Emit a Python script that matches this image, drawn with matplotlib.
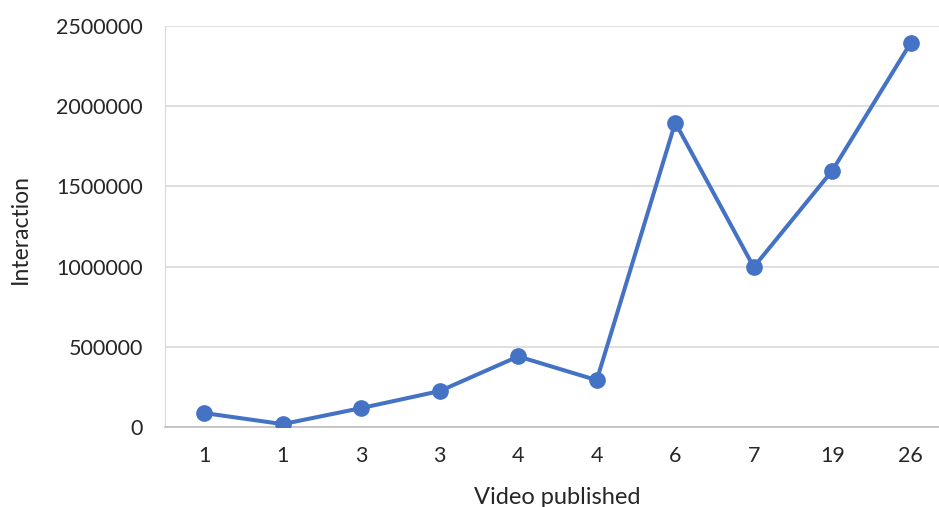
import matplotlib
matplotlib.use("Agg")
import matplotlib.pyplot as plt

categories = ["1", "1", "3", "3", "4", "4", "6", "7", "19", "26"]
values = [87000, 18000, 118000, 224000, 440000, 292000, 1898000, 997000, 1598000, 2395000]
yticks = [0, 500000, 1000000, 1500000, 2000000, 2500000]

plt.rcParams['font.family'] = ['Lato', 'DejaVu Sans']
W, H = 939, 507
fig = plt.figure(figsize=(W/100, H/100), dpi=100)
left, right, top, bottom = 165, 950, 26, 427
ax = fig.add_axes([left/W, 1-bottom/H, (right-left)/W, (bottom-top)/H])

x = list(range(len(categories)))
ax.plot(x, values, color='#4472C4', lw=2.9, marker='o', ms=11, zorder=3)
ax.set_xlim(-0.5, len(categories)-0.5)
ax.set_ylim(0, 2500000)
ax.set_yticks(yticks)
ax.set_yticklabels([str(v) for v in yticks])
ax.set_xticks(x)
ax.set_xticklabels(categories)
ax.grid(axis='y', color='#D9D9D9', lw=1.2)
ax.set_axisbelow(True)
for s in ['top', 'right']:
    ax.spines[s].set_visible(False)
ax.spines['left'].set_color('#D9D9D9')
ax.spines['bottom'].set_color('#BFBFBF')
ax.spines['bottom'].set_linewidth(1.2)
ax.tick_params(length=0, labelsize=15.5, colors='#262626')
ax.tick_params(axis='y', pad=16)
ax.tick_params(axis='x', pad=14)

fig.text(20/W, 1-229/H, 'Interaction', rotation=90, fontsize=16.5, color='#262626',
         ha='center', va='center')
fig.text(557/W, 1-504/H, 'Video published', fontsize=17, color='#262626',
         ha='center', va='baseline')

fig.savefig('out.png', dpi=100)
